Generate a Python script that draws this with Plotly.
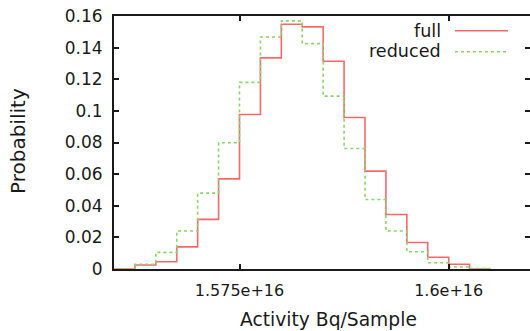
import plotly.graph_objects as go

# Bin edges (Bq/Sample), bin width 2.5e13
bin_edges = [1.5600e16, 1.5625e16, 1.5650e16, 1.5675e16, 1.5700e16, 1.5725e16,
             1.5750e16, 1.5775e16, 1.5800e16, 1.5825e16, 1.5850e16, 1.5875e16,
             1.5900e16, 1.5925e16, 1.5950e16, 1.5975e16, 1.6000e16, 1.6025e16,
             1.6050e16]

full_prob = [0.0, 0.0025, 0.0046, 0.014, 0.0314, 0.057, 0.0977, 0.1335, 0.1548,
             0.1531, 0.1314, 0.0958, 0.0619, 0.0345, 0.0168, 0.0074, 0.003, 0.0]
reduced_prob = [0.0, 0.003, 0.0105, 0.024, 0.048, 0.0798, 0.118, 0.1467, 0.1569,
                0.1425, 0.1093, 0.0762, 0.044, 0.024, 0.0109, 0.004, 0.0013, 0.0003]

x_tickvals = [1.575e16, 1.6e16]
x_ticktext = ["1.575e+16", "1.6e+16"]
y_tickvals = [0, 0.02, 0.04, 0.06, 0.08, 0.10, 0.12, 0.14, 0.16]
y_ticktext = ["0", "0.02", "0.04", "0.06", "0.08", "0.1", "0.12", "0.14", "0.16"]

series_names = ["full", "reduced"]
RED = "#f86a6a"
GREEN = "#8ad46a"
FONT = "DejaVu Sans"
AXIS = "#1a1a1a"

fig = go.Figure()
fig.add_trace(go.Scatter(x=bin_edges, y=full_prob + [full_prob[-1]], mode="lines",
                         line=dict(shape="hv", color=RED, width=1.6),
                         name=series_names[0], showlegend=False))
fig.add_trace(go.Scatter(x=bin_edges, y=reduced_prob + [reduced_prob[-1]], mode="lines",
                         line=dict(shape="hv", color=GREEN, width=1.6, dash="dot"),
                         name=series_names[1], showlegend=False))

W, H = 530, 331
L, T, B = 114, 16, 62
pw = W - L
ph = H - T - B

def px(x):
    return (x - L) / pw

def py(y):
    return (H - B - y) / ph

fig.update_layout(
    width=W, height=H,
    margin=dict(l=L, r=0, t=T, b=B),
    paper_bgcolor="white", plot_bgcolor="white",
    font=dict(family=FONT, color="#1a1a1a"),
    xaxis=dict(range=[1.56e16, 1.60972e16], showgrid=False, zeroline=False,
               showline=True, linecolor=AXIS, linewidth=2, mirror="ticks",
               ticks="inside", ticklen=5, tickwidth=1.5, tickcolor=AXIS,
               tickvals=x_tickvals, ticktext=x_ticktext,
               tickfont=dict(size=16, family=FONT), ticklabelstandoff=6),
    yaxis=dict(range=[0, 0.16], showgrid=False, zeroline=False,
               showline=True, linecolor=AXIS, linewidth=2,
               ticks="inside", ticklen=5, tickwidth=1.5, tickcolor=AXIS,
               tickvals=y_tickvals, ticktext=y_ticktext,
               tickfont=dict(size=17, family=FONT), ticklabelstandoff=6),
    yaxis2=dict(range=[0, 0.16], overlaying="y", side="right", showgrid=False,
                zeroline=False, showline=False, showticklabels=False,
                ticks="inside", ticklen=5, tickwidth=1.5, tickcolor=AXIS,
                tickvals=y_tickvals),
)
# dummy invisible trace to activate yaxis2
fig.add_trace(go.Scatter(x=[bin_edges[0]], y=[0], yaxis="y2", mode="lines",
                         showlegend=False, hoverinfo="skip",
                         line=dict(color="rgba(0,0,0,0)")))

annotations = [
    dict(text="Activity Bq/Sample", x=px(328), y=py(319), xref="paper", yref="paper",
         showarrow=False, font=dict(size=18.7, family=FONT), xanchor="center", yanchor="middle"),
    dict(text="Probability", x=px(18), y=py(141), xref="paper", yref="paper",
         showarrow=False, textangle=-90, font=dict(size=20, family=FONT),
         xanchor="center", yanchor="middle"),
    dict(text=series_names[0], x=px(443), y=py(31), xref="paper", yref="paper",
         showarrow=False, font=dict(size=17.6, family=FONT), xanchor="right", yanchor="middle"),
    dict(text=series_names[1], x=px(443), y=py(51.5), xref="paper", yref="paper",
         showarrow=False, font=dict(size=17.6, family=FONT), xanchor="right", yanchor="middle"),
]
fig.update_layout(annotations=annotations)
fig.update_layout(shapes=[
    dict(type="line", xref="paper", yref="paper", x0=px(455), x1=px(508), y0=py(30.7), y1=py(30.7),
         line=dict(color=RED, width=1.6)),
    dict(type="line", xref="paper", yref="paper", x0=px(455), x1=px(508), y0=py(51.7), y1=py(51.7),
         line=dict(color=GREEN, width=1.6, dash="dot")),
])

fig.write_html("out.html")
